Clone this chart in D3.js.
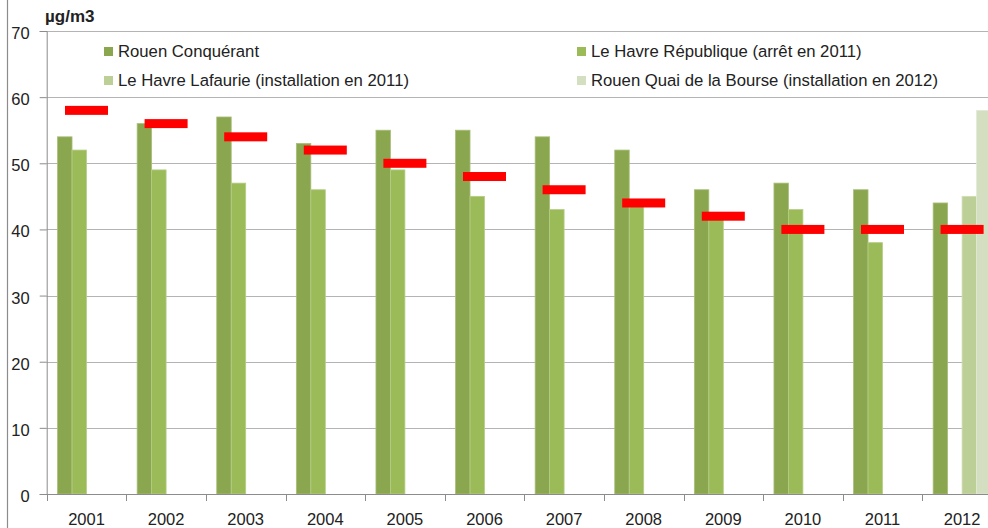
<!DOCTYPE html>
<html>
<head>
<meta charset="utf-8">
<script src="https://cdn.jsdelivr.net/npm/d3@7"></script>
<style>
  html, body { margin: 0; padding: 0; background: #fff; overflow: hidden; }
  svg { display: block; font-family: "Liberation Sans", Arial, sans-serif; }
</style>
</head>
<body>
<svg width="988" height="528"></svg>
<script>
const years = ["2001", "2002", "2003", "2004", "2005", "2006", "2007", "2008", "2009", "2010", "2011", "2012"];
const seriesNames = ["Rouen Conquérant", "Le Havre République (arrêt en 2011)", "Le Havre Lafaurie (installation en 2011)", "Rouen Quai de la Bourse (installation en 2012)"];
const rouenConquerant = [54, 56, 57, 53, 55, 55, 54, 52, 46, 47, 46, 44];
const havreRepublique = [52, 49, 47, 46, 49, 45, 43, 44, 42, 43, 38, null];
const havreLafaurie = [null, null, null, null, null, null, null, null, null, null, null, 45];
const rouenBourse = [null, null, null, null, null, null, null, null, null, null, null, 58];
const valeurLimite = [58, 56, 54, 52, 50, 48, 46, 44, 42, 40, 40, 40];
const yTicks = [0, 10, 20, 30, 40, 50, 60, 70];

const colors = ["#8aa64f", "#9bbb59", "#bccf96", "#d3dfc0"];
const edges = ["#a9bf78", "#b6cd86", "#d0ddb6", "#e2ead6"];

const svg = d3.select("svg");

// cadre gauche
svg.append("line")
    .attr("x1", 7.5).attr("x2", 7.5)
    .attr("y1", 0).attr("y2", 528)
    .attr("stroke", "#8c8c8c").attr("stroke-width", 1.2);

const x0 = 46.7;
const band = 79.6;
const x = d3.scaleBand()
    .domain(years)
    .range([x0, x0 + band * years.length]);

const barW = band / 5.5;
const xs = d3.scaleBand()
    .domain(d3.range(4))
    .range([barW * 0.75, band - barW * 0.75]);

const y = d3.scaleLinear().domain([0, 70]).range([494, 31]);

// grille
svg.append("g")
    .selectAll("line")
    .data(yTicks.filter(d => d > 0))
    .join("line")
    .attr("x1", x0).attr("x2", 988)
    .attr("y1", d => Math.round(y(d)) + 0.5)
    .attr("y2", d => Math.round(y(d)) + 0.5)
    .attr("stroke", "#b4b4b4").attr("stroke-width", 1);

// axe Y
const yAxis = svg.append("g")
    .attr("transform", `translate(${x0},0)`)
    .call(d3.axisLeft(y).tickValues(yTicks).tickSize(7).tickPadding(10));
yAxis.select(".domain").attr("stroke", "#8c8c8c");
yAxis.selectAll(".tick line").attr("stroke", "#8c8c8c");
yAxis.selectAll("text")
    .attr("fill", "#222")
    .style("font-size", "16.5px")
    .attr("dy", "0.45em");

// barres
const series = [rouenConquerant, havreRepublique, havreLafaurie, rouenBourse];
series.forEach((vals, s) => {
    svg.append("g")
        .selectAll("rect")
        .data(years.map((yr, i) => ({ yr, v: vals[i] })).filter(d => d.v != null))
        .join("rect")
        .attr("x", d => x(d.yr) + xs(s))
        .attr("width", xs.bandwidth())
        .attr("y", d => y(d.v))
        .attr("height", d => y(0) - y(d.v))
        .attr("fill", colors[s])
        .attr("stroke", edges[s])
        .attr("stroke-width", 0.8);
});

// axe X
const xAxis = svg.append("g")
    .attr("transform", `translate(0,${y(0)})`);
xAxis.append("line")
    .attr("x1", x0).attr("x2", 988)
    .attr("y1", 0.5).attr("y2", 0.5)
    .attr("stroke", "#8c8c8c");
xAxis.selectAll("line.tk")
    .data(years)
    .join("line")
    .attr("class", "tk")
    .attr("x1", d => Math.round(x(d)) + 0.5)
    .attr("x2", d => Math.round(x(d)) + 0.5)
    .attr("y1", 0).attr("y2", 7)
    .attr("stroke", "#8c8c8c");
xAxis.selectAll("text")
    .data(years)
    .join("text")
    .attr("x", d => x(d) + band / 2)
    .attr("y", 31)
    .attr("text-anchor", "middle")
    .attr("fill", "#222")
    .style("font-size", "16.5px")
    .text(d => d);

// valeur limite (tirets rouges)
svg.append("g")
    .selectAll("rect")
    .data(years.map((yr, i) => ({ yr, v: valeurLimite[i] })))
    .join("rect")
    .attr("x", d => x(d.yr) + band / 2 - 21.5)
    .attr("y", d => y(d.v) - 4.5)
    .attr("width", 43)
    .attr("height", 9)
    .attr("fill", "#ff0000");

// unité
svg.append("text")
    .attr("x", 45).attr("y", 22)
    .style("font-size", "17px")
    .style("font-weight", "bold")
    .attr("fill", "#222")
    .text("µg/m3");

// légende
const legendPos = [[104, 47], [577, 47], [104, 76], [577, 76]];
const leg = svg.append("g")
    .selectAll("g")
    .data(seriesNames)
    .join("g")
    .attr("transform", (d, i) => `translate(${legendPos[i][0]},${legendPos[i][1]})`);
leg.append("rect")
    .attr("width", 9).attr("height", 9)
    .attr("fill", (d, i) => colors[i]);
leg.append("text")
    .attr("x", 14).attr("y", 9.5)
    .attr("fill", "#222")
    .style("font-size", "16.7px")
    .text(d => d);
</script>
</body>
</html>
